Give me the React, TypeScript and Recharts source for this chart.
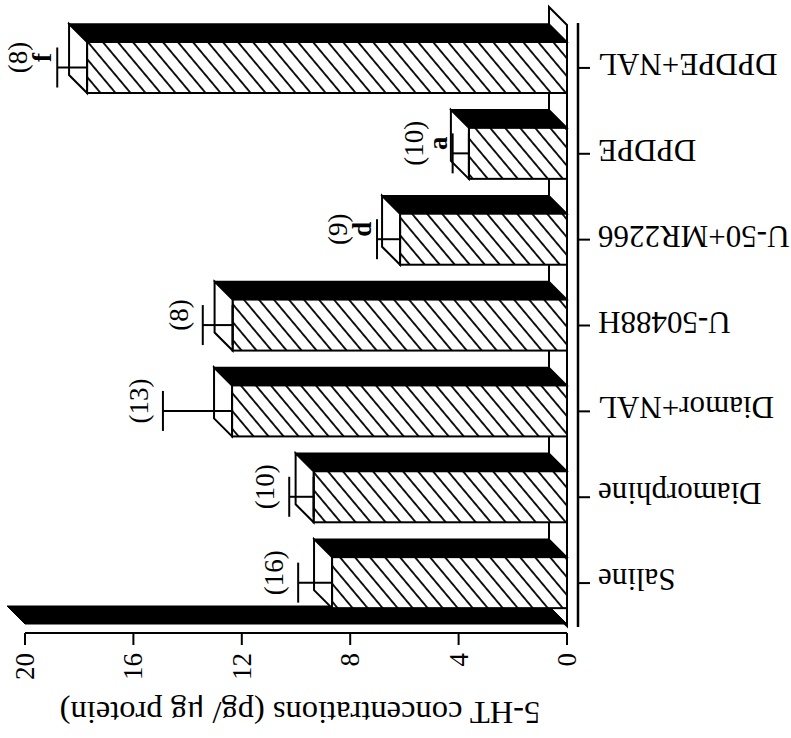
import React from 'react';
import { BarChart, Bar, XAxis, YAxis, ErrorBar, LabelList, ReferenceArea } from 'recharts';

const categories = ['Saline', 'Diamorphine', 'Diamor+NAL', 'U-50488H', 'U-50+MR2266', 'DPDPE', 'DPDPE+NAL'];
const means = [8.67, 9.35, 12.36, 12.34, 6.16, 3.62, 17.71];
const sems = [1.25, 0.9, 2.55, 1.1, 0.85, 0.6, 1.1];
const sampleSizes = [16, 10, 13, 8, 9, 10, 8];
const sigLetters = ['', '', '', '', 'd', 'a', 'f'];
const valueTicks = [0, 4, 8, 12, 16, 20];
const axisTitle = '5-HT concentrations (pg/ μg protein)';

const data = categories.map((c, i) => ({ category: c, value: means[i], err: [0, sems[i]] }));

const SERIF = "'Liberation Serif', 'Times New Roman', Times, serif";
const D = 18;

const Bar3D = (props: any) => {
  const { x, y, width, height } = props;
  const L = Math.min(x, x + width);
  const R = Math.max(x, x + width);
  const w = R - L;
  return (
    <g>
      <polygon points={`${L - D},${y - D} ${R - D},${y - D} ${R},${y} ${L},${y}`} fill="#000" stroke="#000" strokeWidth={1.5} />
      <rect x={L} y={y} width={w} height={height} fill="url(#hatch)" stroke="#000" strokeWidth={2} />
      <polygon points={`${L - D},${y - D} ${L},${y} ${L},${y + height} ${L - D},${y + height - D}`} fill="#fff" stroke="#000" strokeWidth={2} />
    </g>
  );
};

const Frame = (props: any) => {
  const { x, y, width, height } = props;
  const L = x, R = x + width, T = y, B = y + height;
  return (
    <g>
      <defs>
        <pattern id="hatch" patternUnits="userSpaceOnUse" width={11.5} height={11.5} patternTransform="rotate(-40)">
          <rect width={11.5} height={11.5} fill="#fff" />
          <line x1={5.75} y1={0} x2={5.75} y2={11.5} stroke="#000" strokeWidth={1.8} />
        </pattern>
      </defs>
      <polygon points={`${R},${T} ${R - D},${T - D} ${R - D},${B - D} ${R},${B}`} fill="#fff" stroke="#000" strokeWidth={2} />
      <polygon points={`${L},${B - 2} ${R},${B - 2} ${R - D},${B - D - 2} ${L - D},${B - D - 2}`} fill="#000" stroke="#000" strokeWidth={1} />
      <line x1={R + 11} y1={T - 2} x2={R + 11} y2={B + 1} stroke="#000" strokeWidth={2.5} />
    </g>
  );
};

const ValueTick = (props: any) => {
  const { x, y, payload } = props;
  return (
    <text transform={`translate(${x + 9},${y + 8}) rotate(-90)`} textAnchor="end" fontSize={27} fontFamily={SERIF} fill="#000">
      {payload.value}
    </text>
  );
};

const CategoryTick = (props: any) => {
  const { x, y, payload } = props;
  return (
    <g>
      <line x1={x + 11} y1={y} x2={x + 23} y2={y} stroke="#000" strokeWidth={2} />
      <text transform={`translate(${x + 31},${y - 14}) rotate(180)`} textAnchor="end" fontSize={31} fontFamily={SERIF} fill="#000">
        {payload.value}
      </text>
    </g>
  );
};

const AxisTitle = (props: any) => {
  const vb = props.viewBox || { x: 25, y: 633, width: 542, height: 105 };
  return (
    <text transform={`translate(${vb.x + vb.width / 2 + 4},${vb.y + 69}) rotate(180)`} textAnchor="middle" fontSize={32.5} fontFamily={SERIF} fill="#000">
      {axisTitle}
    </text>
  );
};

const Annotation = (props: any) => {
  const { x, y, width, height, index } = props;
  if (index == null) return null;
  const L = Math.min(x, x + width);
  const pxPerUnit = Math.abs(width) / means[index];
  const errEnd = L - sems[index] * pxPerUnit;
  const cy = y + height / 2 - 10;
  const letter = sigLetters[index];
  const nX = letter ? errEnd - 37 : errEnd - 22;
  return (
    <g>
      {letter ? (
        <text transform={`translate(${errEnd - 14 + 8},${cy}) rotate(-90)`} textAnchor="middle" fontSize={27} fontWeight="bold" fontFamily={SERIF} fill="#000">
          {letter}
        </text>
      ) : null}
      <text transform={`translate(${nX + 7},${cy}) rotate(-90)`} textAnchor="middle" fontSize={27} fontFamily={SERIF} fill="#000">
        {`(${sampleSizes[index]})`}
      </text>
    </g>
  );
};

export default function App() {
  return (
    <div style={{ position: 'absolute', left: 0, top: 0, width: 791, height: 738, background: '#fff' }}>
      <BarChart width={791} height={738} data={data} layout="vertical" margin={{ top: 25, right: 0, bottom: 0, left: 25 }}>
        <ReferenceArea
          x1={0}
          x2={20}
          y1={categories[categories.length - 1]}
          y2={categories[0]}
          ifOverflow="visible"
          shape={Frame}
        />
        <XAxis
          type="number"
          domain={[0, 20]}
          reversed
          ticks={valueTicks}
          interval={0}
          height={105}
          axisLine={{ stroke: '#000', strokeWidth: 2 }}
          tickLine={{ stroke: '#000', strokeWidth: 2 }}
          tickSize={12}
          tickMargin={0}
          tick={ValueTick}
          label={{ content: AxisTitle }}
        />
        <YAxis
          type="category"
          dataKey="category"
          orientation="right"
          reversed
          width={224}
          axisLine={false}
          tickLine={false}
          tickSize={0}
          tickMargin={0}
          interval={0}
          padding={{ top: 0, bottom: 7 }}
          tick={CategoryTick}
        />
        <Bar dataKey="value" barSize={51} shape={Bar3D} isAnimationActive={false}>
          <ErrorBar dataKey="err" direction="x" width={20} stroke="#000" strokeWidth={2} isAnimationActive={false} />
          <LabelList dataKey="value" content={Annotation} />
        </Bar>
      </BarChart>
    </div>
  );
}
